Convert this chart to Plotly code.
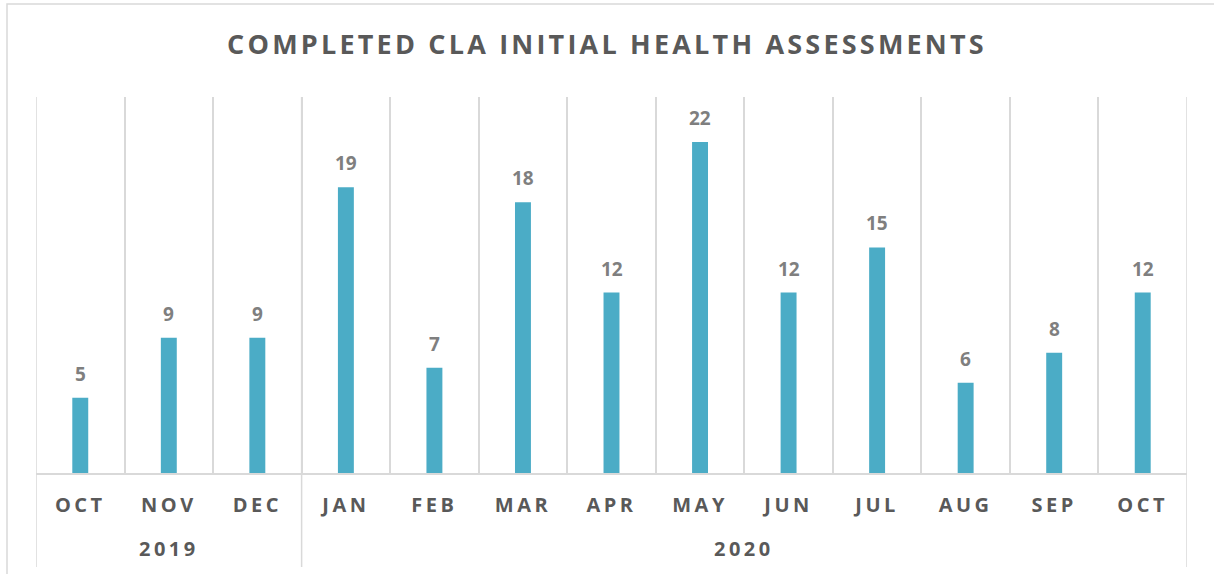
import plotly.graph_objects as go

months = ["OCT", "NOV", "DEC", "JAN", "FEB", "MAR", "APR", "MAY", "JUN", "JUL", "AUG", "SEP", "OCT"]
years = ["2019", "2019", "2019", "2020", "2020", "2020", "2020", "2020", "2020", "2020", "2020", "2020", "2020"]
values = [5, 9, 9, 19, 7, 18, 12, 22, 12, 15, 6, 8, 12]
title_text = "COMPLETED CLA INITIAL HEALTH ASSESSMENTS"

FONT = "Open Sans"
BAR = "#4bacc6"
GRID = "#d9d9d9"
DARK = "#595959"
MID = "#7f7f7f"


def spaced(s, px):
    return f"<span style='letter-spacing:{px}px'>{s}</span>"


xs = list(range(len(months)))

fig = go.Figure()
fig.add_trace(go.Bar(x=xs, y=values, width=0.18, marker=dict(color=BAR, line=dict(width=0)),
                     hoverinfo="skip"))

# value labels
for x, v in zip(xs, values):
    fig.add_annotation(x=x, y=v, text=f"<b>{v}</b>", showarrow=False, yanchor="bottom",
                       yshift=9, font=dict(family=FONT, size=19, color=MID))

# year groups
groups = []
for i, y in enumerate(years):
    if groups and groups[-1][0] == y:
        groups[-1][2] = i
    else:
        groups.append([y, i, i])

for y, a, b in groups:
    fig.add_annotation(x=(a + b) / 2, y=-0.2, yref="paper", text=f"<b>{spaced(y, 3.5)}</b>",
                       showarrow=False, yanchor="middle",
                       font=dict(family=FONT, size=20, color=DARK))

bounds = sorted(set([g[1] - 0.5 for g in groups] + [groups[-1][2] + 0.5]))
for bx in bounds:
    fig.add_shape(type="line", x0=bx, x1=bx, xref="x", y0=1, y1=-0.25, yref="paper",
                  line=dict(color=GRID, width=1.5))

# chart border (cropped on right/bottom)
fig.add_shape(type="rect", xref="paper", yref="paper",
              x0=(7 - 36) / 1151, x1=1.1, y0=(473 - 4) / 376, y1=-0.4,
              line=dict(color=GRID, width=1.5), fillcolor="rgba(0,0,0,0)", layer="below")

fig.update_layout(
    width=1214, height=574,
    margin=dict(l=36, r=27, t=97, b=101),
    paper_bgcolor="white", plot_bgcolor="white",
    showlegend=False,
    title=dict(text=f"<b>{spaced(title_text, 3.2)}</b>", x=0.5, xanchor="center",
               y=1 - 45 / 574, yanchor="middle", yref="container",
               font=dict(family=FONT, size=27, color=DARK)),
    xaxis=dict(range=[-0.5, len(months) - 0.5], tickvals=xs,
               ticktext=[f"<b>{spaced(m, 3.5)}</b>" for m in months],
               tickfont=dict(family=FONT, size=20, color=DARK),
               showgrid=False, zeroline=False, showline=True, linecolor=GRID, linewidth=1.5,
               ticks="", ticklabelstandoff=13,
               minor=dict(tickvals=[x + 0.5 for x in xs[:-1]], showgrid=True,
                          gridcolor=GRID, gridwidth=1.5, ticks="")),
    yaxis=dict(range=[0, 25], showgrid=False, zeroline=False, showticklabels=False,
               showline=False, ticks=""),
)

fig.write_html("out.html", config={"displayModeBar": False},
               post_script="document.body.style.margin='0';")
